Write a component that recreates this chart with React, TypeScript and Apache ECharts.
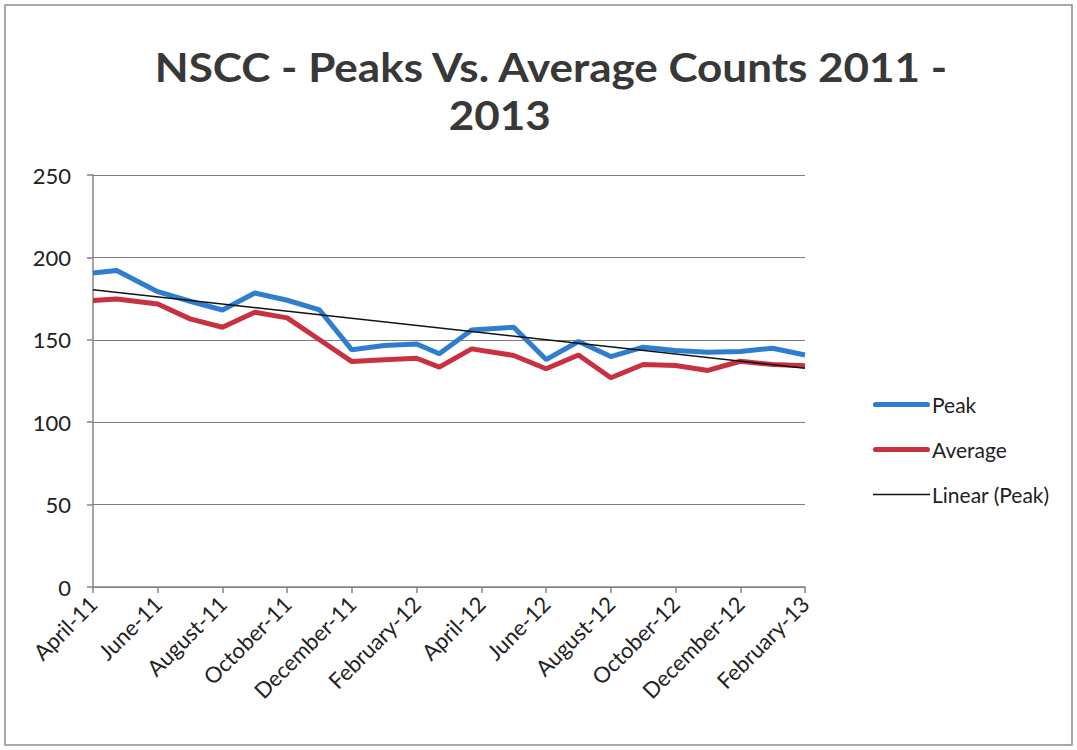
import React, { useEffect, useRef } from "react";
import * as echarts from "echarts";

// Month index (0 = April-11) of each reading
const monthPos = [0, 0.73, 2, 3, 4, 5, 6, 7, 8, 9, 10, 10.7, 11.7, 13, 14, 15, 16, 17, 18, 19, 20, 21, 22];
const peak = [190.5, 192, 179.2, 173.4, 168.1, 178.4, 174, 168.1, 143.9, 146.5, 147.5, 141.5, 156, 157.6, 138, 149, 139.8, 145.5, 143.5, 142.5, 142.9, 144.9, 140.8];
const average = [173.8, 174.8, 171.7, 162.7, 157.6, 166.7, 163.3, 150, 136.8, 137.9, 138.8, 133.4, 144.5, 140.5, 132.4, 140.8, 127, 135, 134.4, 131.4, 137, 135, 134.2];
const tickLabels = ["April-11", "June-11", "August-11", "October-11", "December-11", "February-12", "April-12", "June-12", "August-12", "October-12", "December-12", "February-13"];
const yTicks = [0, 50, 100, 150, 200, 250];
const titleLine1 = "NSCC - Peaks Vs. Average Counts 2011 -";
const titleLine2 = "2013";

function linearFit(xs: number[], ys: number[]) {
  const n = xs.length;
  const mx = xs.reduce((a, b) => a + b, 0) / n;
  const my = ys.reduce((a, b) => a + b, 0) / n;
  let sxy = 0, sxx = 0;
  for (let i = 0; i < n; i++) {
    sxy += (xs[i] - mx) * (ys[i] - my);
    sxx += (xs[i] - mx) * (xs[i] - mx);
  }
  const slope = sxy / sxx;
  return { slope, intercept: my - slope * mx };
}

export default function App() {
  const ref = useRef<HTMLDivElement>(null);
  useEffect(() => {
    if (!ref.current) return;
    const chart = echarts.init(ref.current, null, { renderer: "svg" });
    const font = "Lato, 'Open Sans', sans-serif";
    const fit = linearFit(monthPos, peak);
    const xMin = monthPos[0];
    const xMax = monthPos[monthPos.length - 1];
    const trend = [
      [xMin, fit.intercept + fit.slope * xMin],
      [xMax, fit.intercept + fit.slope * xMax],
    ];
    const thickIcon = "path://M2.5,0H52.5A2.5,2.5,0,0,1,52.5,5H2.5A2.5,2.5,0,0,1,2.5,0Z";
    const thinIcon = "path://M0,0H55V1.5H0Z";
    const titleToken = { fontFamily: font, fontWeight: "bold", fontSize: 40, lineHeight: 48, color: "#383838" };
    chart.setOption({
      animation: false,
      backgroundColor: "#ffffff",
      textStyle: { fontFamily: font },
      graphic: [
        {
          type: "rect",
          shape: { x: 5, y: 5, width: 1067, height: 740 },
          style: { fill: "none", stroke: "#8c8c8c", lineWidth: 1.5 },
          silent: true,
        },
        {
          type: "text",
          x: 551,
          y: 91,
          scaleX: 1.1,
          style: {
            text: `{a|${titleLine1}}\n{b|${titleLine2}}{pad| }`,
            fill: "#383838",
            textAlign: "center",
            textVerticalAlign: "middle",
            rich: {
              a: titleToken,
              b: titleToken,
              pad: { ...titleToken, width: 93 },
            },
          },
        },
      ],
      grid: { left: 93, right: 272, top: 175, bottom: 163, containLabel: false },
      legend: {
        orient: "vertical",
        left: 868,
        top: 389,
        itemWidth: 57,
        itemHeight: 14,
        itemGap: 24,
        symbolKeepAspect: true,
        textStyle: { fontSize: 21, color: "#222", fontFamily: font, padding: [0, 0, 0, -3] },
        data: [
          { name: "Peak", icon: thickIcon, itemStyle: { color: "#2f7dcf" } },
          { name: "Average", icon: thickIcon, itemStyle: { color: "#c8313f" } },
          { name: "Linear (Peak)", icon: thinIcon, itemStyle: { color: "#111111" } },
        ],
      },
      xAxis: {
        type: "value",
        min: 0,
        max: 22,
        interval: 2,
        axisLine: { show: true, lineStyle: { color: "#858585", width: 1.5 } },
        axisTick: { show: true, length: 6, lineStyle: { color: "#858585", width: 1.5 } },
        splitLine: { show: false },
        axisLabel: {
          rotate: 45,
          margin: 13,
          fontSize: 22,
          color: "#222",
          fontFamily: font,
          formatter: (v: number) => tickLabels[Math.round(v / 2)] ?? "",
        },
      },
      yAxis: {
        type: "value",
        min: yTicks[0],
        max: yTicks[yTicks.length - 1],
        interval: yTicks[1] - yTicks[0],
        axisLine: { show: true, lineStyle: { color: "#858585", width: 1.5 } },
        axisTick: { show: true, length: 6, lineStyle: { color: "#858585", width: 1.5 } },
        splitLine: { show: true, lineStyle: { color: "#7f7f7f", width: 1.2 } },
        axisLabel: { fontSize: 22, color: "#222", margin: 22, fontFamily: font },
      },
      series: [
        {
          name: "Peak",
          type: "line",
          symbol: "none",
          data: monthPos.map((m, i) => [m, peak[i]]),
          lineStyle: { color: "#2f7dcf", width: 5 },
          itemStyle: { color: "#2f7dcf" },
          z: 3,
        },
        {
          name: "Average",
          type: "line",
          symbol: "none",
          data: monthPos.map((m, i) => [m, average[i]]),
          lineStyle: { color: "#c8313f", width: 5 },
          itemStyle: { color: "#c8313f" },
          z: 2,
        },
        {
          name: "Linear (Peak)",
          type: "line",
          symbol: "none",
          data: trend,
          lineStyle: { color: "#111111", width: 1.5 },
          itemStyle: { color: "#111111" },
          z: 4,
        },
      ],
    });
    return () => chart.dispose();
  }, []);
  return (
    <div
      ref={ref}
      style={{ position: "absolute", left: 0, top: 0, width: 1077, height: 750 }}
    />
  );
}
